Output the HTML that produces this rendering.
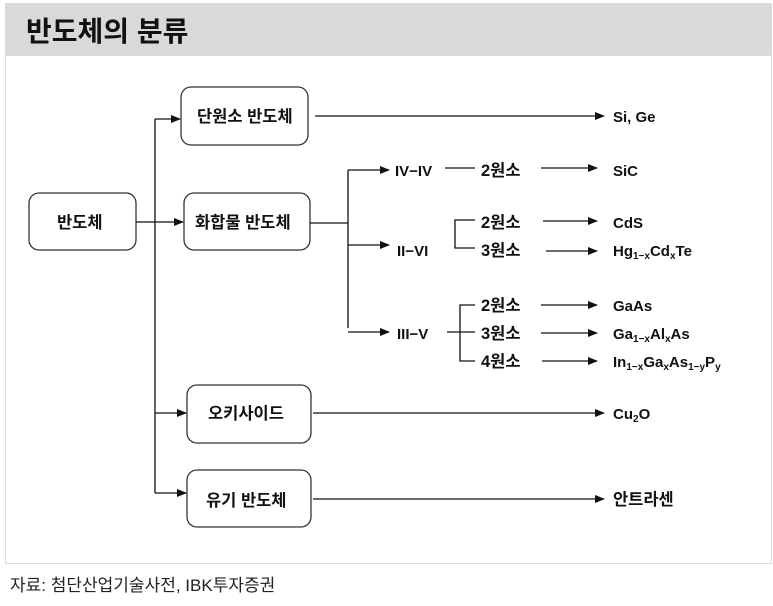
<!DOCTYPE html>
<html><head><meta charset="utf-8"><style>
html,body{margin:0;padding:0;background:#fff;width:773px;height:606px;overflow:hidden}
svg{display:block}
text{font-family:"Liberation Sans","Noto Sans CJK KR",sans-serif;fill:#111}
.b{font-weight:bold;font-size:15px}
.k{font-size:16.5px}
</style></head><body>
<svg width="773" height="606" viewBox="0 0 773 606">
<defs><marker id="a" markerWidth="10" markerHeight="8" refX="9" refY="4" orient="auto" markerUnits="userSpaceOnUse"><path d="M0,0 L10,4 L0,8 z" fill="#111"/></marker></defs>
<rect x="5" y="3" width="767" height="52" fill="#d9d9d9"/>
<rect x="5.5" y="55.5" width="766" height="508" fill="none" stroke="#ddd"/>
<text x="26" y="41" style="font-size:28px;font-weight:bold">반도체의 분류</text>
<g fill="none" stroke="#333" stroke-width="1.3">
<rect x="29" y="193" width="107" height="57" rx="10"/>
<rect x="181" y="87" width="127" height="58" rx="10"/>
<rect x="184" y="193" width="126" height="57" rx="10"/>
<rect x="187" y="385" width="124" height="58" rx="10"/>
<rect x="187" y="470" width="124" height="57" rx="10"/>
</g>
<g stroke="#111" stroke-width="1.3" fill="none">
<path d="M155,119 V493"/>
<path d="M155,119 H180" marker-end="url(#a)"/>
<path d="M136,222 H183" marker-end="url(#a)"/>
<path d="M155,413 H186" marker-end="url(#a)"/>
<path d="M155,493 H186" marker-end="url(#a)"/>
<path d="M315,116 H604" marker-end="url(#a)"/>
<path d="M313,413 H604" marker-end="url(#a)"/>
<path d="M313,499 H604" marker-end="url(#a)"/>
<path d="M310,223 H348 M348,170 V328"/>
<path d="M348,170 H389" marker-end="url(#a)"/>
<path d="M348,245 H389" marker-end="url(#a)"/>
<path d="M348,332 H389" marker-end="url(#a)"/>
<path d="M445,168 H475"/>
<path d="M475,220 H455 V248 H475"/>
<path d="M475,305 H460 V361 H475 M447,332 H475"/>
<path d="M541,168 H597" marker-end="url(#a)"/>
<path d="M543,221 H597" marker-end="url(#a)"/>
<path d="M546,251 H597" marker-end="url(#a)"/>
<path d="M541,305 H597" marker-end="url(#a)"/>
<path d="M541,333 H597" marker-end="url(#a)"/>
<path d="M542,361 H597" marker-end="url(#a)"/>
</g>
<g class="b">
<text class="k" x="57" y="228">반도체</text>
<text class="k" x="197" y="122">단원소 반도체</text>
<text class="k" x="195" y="228">화합물 반도체</text>
<text class="k" x="208" y="419">오키사이드</text>
<text class="k" x="206" y="506">유기 반도체</text>
<text x="395" y="176">IV−IV</text>
<text x="397" y="256">II−VI</text>
<text x="397" y="339">III−V</text>
<text class="k" x="481" y="176">2원소</text>
<text class="k" x="481" y="228">2원소</text>
<text class="k" x="481" y="256">3원소</text>
<text class="k" x="481" y="311">2원소</text>
<text class="k" x="481" y="339">3원소</text>
<text class="k" x="481" y="367">4원소</text>
<text x="613" y="122">Si, Ge</text>
<text x="613" y="176">SiC</text>
<text x="613" y="228">CdS</text>
<text x="613" y="256">Hg<tspan font-size="10" dy="3">1−x</tspan><tspan dy="-3">Cd</tspan><tspan font-size="10" dy="3">x</tspan><tspan dy="-3">Te</tspan></text>
<text x="613" y="311">GaAs</text>
<text x="613" y="339">Ga<tspan font-size="10" dy="3">1−x</tspan><tspan dy="-3">Al</tspan><tspan font-size="10" dy="3">x</tspan><tspan dy="-3">As</tspan></text>
<text x="613" y="367">In<tspan font-size="10" dy="3">1−x</tspan><tspan dy="-3">Ga</tspan><tspan font-size="10" dy="3">x</tspan><tspan dy="-3">As</tspan><tspan font-size="10" dy="3">1−y</tspan><tspan dy="-3">P</tspan><tspan font-size="10" dy="3">y</tspan></text>
<text x="613" y="419">Cu<tspan font-size="10" dy="3">2</tspan><tspan dy="-3">O</tspan></text>
<text class="k" x="613" y="505">안트라센</text>
</g>
<text x="10" y="591" style="font-size:17px;fill:#222">자료:  첨단산업기술사전, IBK투자증권</text>
</svg>
</body></html>
